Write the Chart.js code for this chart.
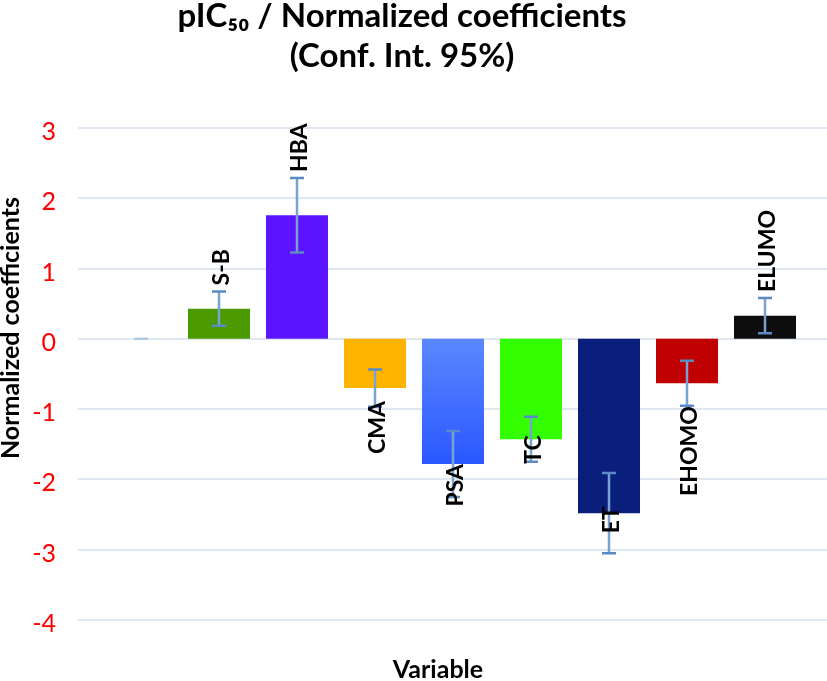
<!DOCTYPE html>
<html>
<head>
<meta charset="utf-8">
<script src="https://cdn.jsdelivr.net/npm/chart.js@4.4.1/dist/chart.umd.min.js"></script>
<style>
html, body { margin: 0; padding: 0; background: #ffffff; }
#wrap { width: 827px; height: 681px; }
</style>
</head>
<body>
<div id="wrap"><canvas id="c" width="827" height="681"></canvas></div>
<script>
// ---- data ----
const categories = ['', 'S-B', 'HBA', 'CMA', 'PSA', 'TC', 'ET', 'EHOMO', 'ELUMO'];
const coefficients = [0, 0.43, 1.76, -0.70, -1.78, -1.43, -2.48, -0.63, 0.33];
const confHalfWidth = [0, 0.245, 0.53, 0.265, 0.47, 0.32, 0.57, 0.32, 0.25];
const yTickValues = [-4, -3, -2, -1, 0, 1, 2, 3];
const chartTitle = ['pIC\u2085\u2080 / Normalized coefficients', '(Conf. Int. 95%)'];
const xAxisTitle = 'Variable';
const yAxisTitle = 'Normalized coefficients';

// ---- styling ----
const FONT = 'Lato, Carlito, "Open Sans", sans-serif';
const solidColors = ['#c9d5ec', '#4a9a00', '#5b14ff', '#ffb400', null, '#33ff00', '#0a1f7b', '#c00000', '#0d0d0d'];
const labelShift = [0, 0, 0, 13, 0, -4, -7, 23, 0];

function barColor(ctx) {
  const i = ctx.dataIndex;
  if (solidColors[i]) return solidColors[i];
  const chart = ctx.chart;
  const y = chart.scales.y;
  if (!y || !chart.chartArea) return '#3f6fff';
  const g = chart.ctx.createLinearGradient(0, y.getPixelForValue(0), 0, y.getPixelForValue(coefficients[i]));
  g.addColorStop(0, '#5b88ff');
  g.addColorStop(1, '#2a57ff');
  return g;
}

const gridPlugin = {
  id: 'gridPlugin',
  beforeDatasetsDraw(chart) {
    const y = chart.scales.y;
    const ctx = chart.ctx;
    ctx.save();
    ctx.strokeStyle = '#dfe7f1';
    ctx.lineWidth = 2;
    y.ticks.forEach(t => {
      const py = Math.round(y.getPixelForValue(t.value));
      ctx.beginPath();
      ctx.moveTo(chart.chartArea.left - 24, py);
      ctx.lineTo(chart.width, py);
      ctx.stroke();
    });
    ctx.restore();
  }
};

const errorBarPlugin = {
  id: 'errorBarPlugin',
  afterDatasetsDraw(chart) {
    const y = chart.scales.y;
    const meta = chart.getDatasetMeta(0);
    const ctx = chart.ctx;
    ctx.save();
    meta.data.forEach((bar, i) => {
      const v = coefficients[i], h = confHalfWidth[i];
      const x = bar.x;
      const pTop = y.getPixelForValue(v + h);
      const pBot = y.getPixelForValue(v - h);
      ctx.globalAlpha = h === 0 ? 0.35 : 1;
      ctx.strokeStyle = '#78a2d4';
      ctx.lineWidth = 2.5;
      ctx.beginPath();
      ctx.moveTo(x, pTop);
      ctx.lineTo(x, pBot);
      ctx.stroke();
      ctx.strokeStyle = '#5b8ac4';
      ctx.lineWidth = 2.5;
      ctx.beginPath();
      ctx.moveTo(x - 7, pTop); ctx.lineTo(x + 7, pTop);
      ctx.moveTo(x - 7, pBot); ctx.lineTo(x + 7, pBot);
      ctx.stroke();
    });
    ctx.restore();
  }
};

const barLabelPlugin = {
  id: 'barLabelPlugin',
  afterDatasetsDraw(chart) {
    const y = chart.scales.y;
    const meta = chart.getDatasetMeta(0);
    const ctx = chart.ctx;
    ctx.save();
    ctx.fillStyle = '#000000';
    ctx.font = 'bold 23px ' + FONT;
    ctx.textBaseline = 'middle';
    meta.data.forEach((bar, i) => {
      const label = categories[i];
      if (!label) return;
      const v = coefficients[i], h = confHalfWidth[i];
      let py, align;
      if (v >= 0) {
        py = y.getPixelForValue(v + h) - 6;
        align = 'left';
      } else {
        py = y.getPixelForValue(v) + labelShift[i];
        align = 'right';
      }
      ctx.save();
      ctx.translate(bar.x + 3, py);
      ctx.rotate(-Math.PI / 2);
      ctx.textAlign = align;
      ctx.fillText(label, 0, 0);
      ctx.restore();
    });
    ctx.restore();
  }
};

const axisTitlePlugin = {
  id: 'axisTitlePlugin',
  afterDraw(chart) {
    const ctx = chart.ctx;
    ctx.save();
    ctx.fillStyle = '#000000';
    ctx.font = 'bold 25px ' + FONT;
    ctx.textAlign = 'center';
    ctx.textBaseline = 'alphabetic';
    ctx.fillText(xAxisTitle, 438, 678);
    ctx.translate(19, 328);
    ctx.rotate(-Math.PI / 2);
    ctx.fillText(yAxisTitle, 0, 0);
    ctx.restore();
  }
};

new Chart(document.getElementById('c'), {
  type: 'bar',
  data: {
    labels: categories,
    datasets: [{
      label: 'Normalized coefficients',
      data: coefficients,
      backgroundColor: barColor,
      borderWidth: 0,
      categoryPercentage: 1,
      barPercentage: 0.795
    }]
  },
  options: {
    responsive: false,
    animation: false,
    devicePixelRatio: 1,
    layout: { padding: { left: 0, right: 23, top: 0, bottom: 0 } },
    plugins: {
      legend: { display: false },
      tooltip: { enabled: false },
      title: {
        display: true,
        text: chartTitle,
        color: '#000000',
        font: { family: FONT, size: 33, weight: 'bold', lineHeight: 1.2 },
        padding: { top: -3, bottom: 51.8 }
      }
    },
    scales: {
      x: {
        type: 'category',
        offset: true,
        grid: { display: false, drawTicks: false },
        border: { display: false },
        ticks: { display: false },
        afterFit(s) { s.height = 56; }
      },
      y: {
        min: -4,
        max: 3,
        afterBuildTicks(s) { s.ticks = yTickValues.map(v => ({ value: v })); },
        grid: { display: false, drawTicks: false, tickLength: 0 },
        border: { display: false },
        ticks: {
          color: '#ff0000',
          font: { family: FONT, size: 25 },
          padding: 46,
          labelOffset: 4
        },
        afterFit(s) { s.width = 102; }
      }
    }
  },
  plugins: [gridPlugin, errorBarPlugin, barLabelPlugin, axisTitlePlugin]
});
</script>
</body>
</html>
